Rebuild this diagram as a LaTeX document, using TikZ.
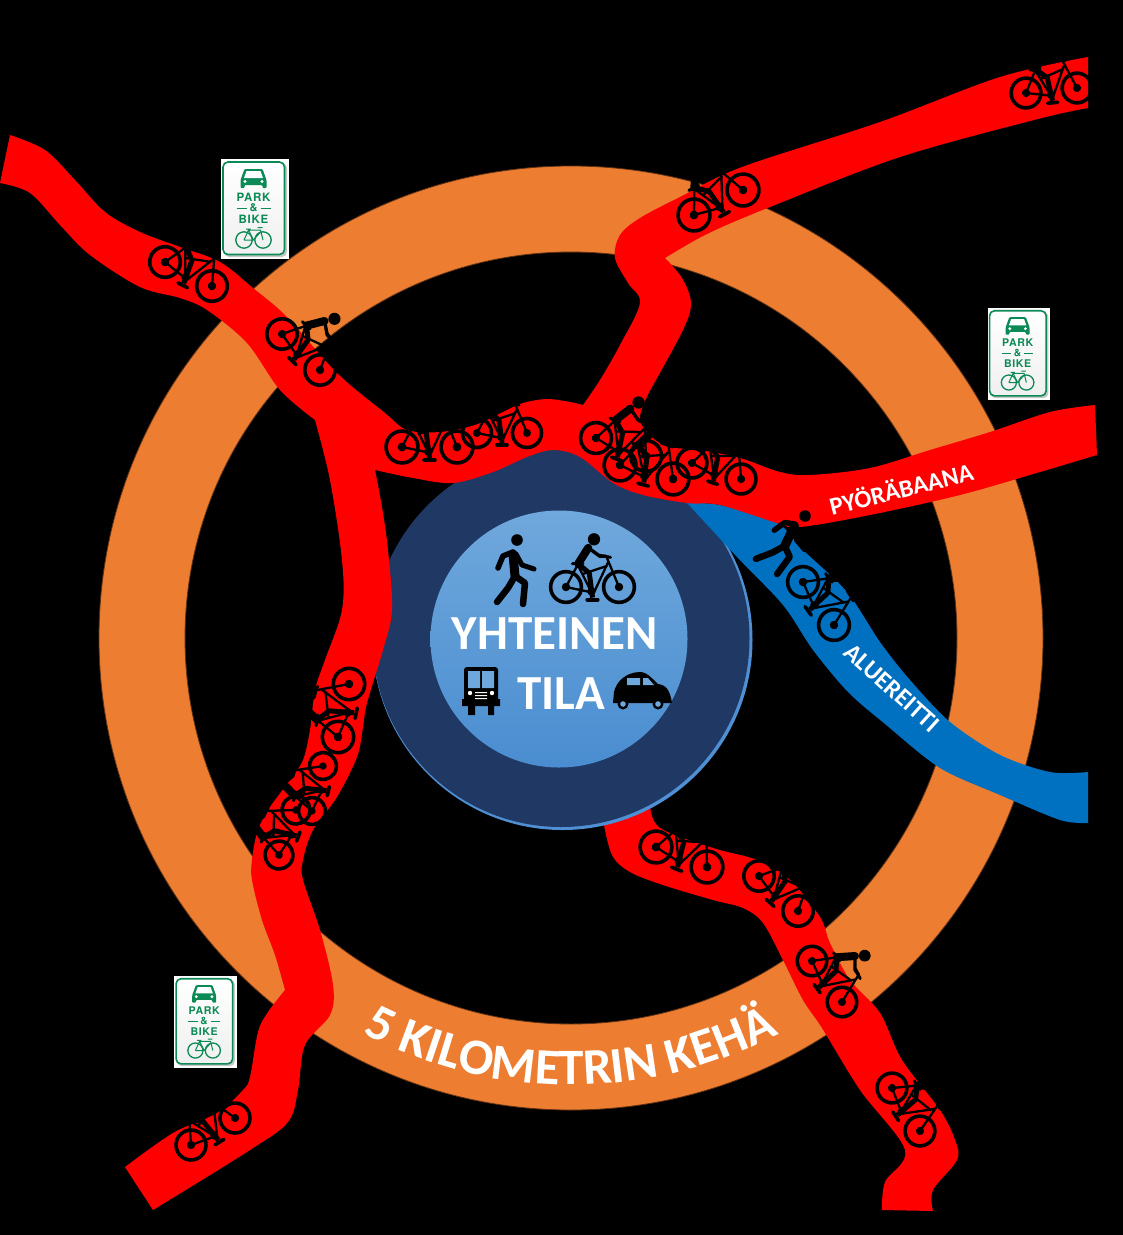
\documentclass[tikz,border=0pt]{standalone}
\usepackage{fontspec}
\setmainfont{Carlito}
\setsansfont{TeX Gyre Heros}
\usetikzlibrary{decorations.text}
\definecolor{ringor}{HTML}{ED7D31}
\definecolor{roadred}{HTML}{FF0000}
\definecolor{areablue}{HTML}{0070C0}
\definecolor{navyc}{HTML}{1F3864}
\definecolor{signgreen}{HTML}{0B8A55}
\definecolor{halo}{HTML}{4F8FD3}
\definecolor{disctop}{HTML}{6FA8DC}
\definecolor{discbot}{HTML}{4A8DD0}
\newfontfamily\signfont[LetterSpace=6]{TeX Gyre Heros}
\tikzset{
 x=1pt,y=-1pt,
 bikeicon/.pic={
  \draw[black,line width=3.6] (-25,0) circle[radius=14.5] (25,0) circle[radius=14.5];
  \fill[black] (-25,0) circle[radius=4] (25,0) circle[radius=4];
  \draw[black,line width=2.3,line join=round] (-25,0) -- (-14,-21) -- (-1,5) -- cycle;
  \draw[black,line width=2.3] (-10,-12) -- (14,-20) (1,6) -- (15,-24) (13,-29) -- (25,0);
  \draw[black,line width=3,line cap=round] (-19,-22) -- (-9,-22) (6,-30) -- (17,-28);
  \draw[black,line width=3.6,line cap=round] (-5,12) -- (5,12);
  \fill[black] (-1,4) circle[radius=4];
  \fill[black] (1.4,-45) circle[radius=5.8];
  \draw[black,line width=8,line cap=round,line join=round] (-13.5,-22) -- (-4,-37);
  \draw[black,line width=3.4,line join=round] (-4,-37) -- (7,-29) -- (13,-29);
  \draw[black,line width=5,line join=round] (-13.5,-22) -- (-3,-13) -- (0,10);
 },
 walkicon/.pic={
  \fill[black] (0,0) circle[radius=5.8];
  \draw[black,line width=9,line cap=round] (-4,14) -- (-2,36);
  \draw[black,line width=5.5,line cap=round,line join=round] (-4,12) -- (-14,16) -- (-19,28);
  \draw[black,line width=5,line cap=round,line join=round] (-1,14) -- (5,25) -- (17,29);
  \draw[black,line width=6.5,line cap=round,line join=round] (-2,36) -- (-9,48) -- (-20,62);
  \draw[black,line width=6.5,line cap=round,line join=round] (-2,36) -- (8,43) -- (6,64);
 },
 signicon/.pic={
  \fill[white] (-34,-50) rectangle (34,50);
  \fill[black!22,rounded corners=5] (-31,-46) rectangle (32,48);
  \shade[top color=white,bottom color=black!6,rounded corners=5,draw=signgreen,line width=1.6] (-32,-47) rectangle (29.5,45.5);
  \begin{scope}[shift={(-1.5,0)}]
  \fill[signgreen,rounded corners=1] (-13,-21) -- (-13,-29) -- (-9,-40) -- (9,-40) -- (13,-29) -- (13,-21) -- (9,-21) -- (9,-24) -- (-9,-24) -- (-9,-21) -- cycle;
  \fill[white] (-7,-38) -- (7,-38) -- (9.5,-31) -- (-9.5,-31) -- cycle;
  \fill[white] (-8.5,-27.5) circle[radius=1.7] (8.5,-27.5) circle[radius=1.7];
  \node[inner sep=0,text=signgreen,font=\signfont\bfseries\fontsize{11.5}{12}\selectfont,transform shape] (-park) at (0,-12) {PARK};
  \node[inner sep=0,text=signgreen,font=\sffamily\bfseries\fontsize{11}{11}\selectfont,transform shape] (-amp) at (0,-1) {\&};
  \node[inner sep=0,text=signgreen,font=\signfont\bfseries\fontsize{11.5}{12}\selectfont,transform shape] (-bike) at (0,10) {BIKE};
  \draw[signgreen,line width=1] (-17,-1) -- (-7,-1) (7,-1) -- (17,-1);
  \draw[signgreen,line width=1.3] (-9.5,31) circle[radius=8.2] (9.5,31) circle[radius=8.2];
  \draw[signgreen,line width=1,line join=round] (-9.5,31) -- (-5,21) -- (7,21) -- (9.5,31) (-5,21) -- (0,31) -- (7,23) (0,31) -- (-9.5,31) (-7.5,20) -- (-3,20) (4,18.5) -- (9,18.5);
  \end{scope}
 }
}
\newcommand\bikeRW[4]{\pgfmathsetmacro\ba{atan2(#2-#4,#3-#1)}\pgfmathsetmacro\bs{veclen(#3-#1,#4-#2)/50}\pic[rotate=\ba,scale=\bs] at ({(#1+#3)/2},{(#2+#4)/2}) {bikeicon};}
\begin{document}
\begin{tikzpicture}
\useasboundingbox (0,0) rectangle (1123,1235);
\fill[black] (0,0) rectangle (1123,1235);
% ring
\fill[ringor,draw=black!60!ringor,line width=.8,even odd rule] (571,638) circle[radius=472] (571,638) circle[radius=386];
% south-east road
\fill[roadred] plot[smooth,tension=.55] coordinates {(603,820) (612,855) (630,872) (663,885) (713,900) (743,908) (763,923) (783,960) (803,1000) (822,1028) (860,1090) (905,1150) (885,1182) (882,1210)}
 -- plot[smooth,tension=.55] coordinates {(933,1211) (933,1190) (957,1160) (955,1140) (940,1110) (902,1060) (880,1013) (850,980) (830,943) (820,917) (790,880) (757,860) (713,848) (660,828) (650,805)} -- cycle;
% central disc
\fill[halo] (562.5,640) circle[radius=190];
\fill[navyc] (561,638.5) circle[radius=188.5];
% blue road
\fill[areablue] plot[smooth,tension=.5] coordinates {(687,503) (720,505) (777,523) (803,550) (847,592) (880,642) (910,680) (950,722) (1000,755) (1050,772) (1088,772)}
 -- plot[smooth,tension=.5] coordinates {(1088,823) (1060,820) (1000,795) (940,768) (885,724) (848,692) (813,650) (783,605) (737,557) (687,503)} -- cycle;
% inner disc
\shade[top color=disctop,bottom color=discbot] (559,639) circle[radius=128.5];
% main red road
\fill[roadred]
 plot[smooth,tension=.55] coordinates {(10,135) (45,150) (75,180) (105,212) (140,232) (180,247) (220,262) (253,288) (287,317) (337,373) (385,413) (407,430) (440,432) (475,425) (503,412) (523,403) (547,399) (570,402) (583,405)}
 -- plot[smooth,tension=.55] coordinates {(583,405) (600,380) (620,345) (640,303) (628,283) (615,258) (620,235) (640,218) (680,197) (742,167) (880,122) (1000,77) (1088,57)}
 -- plot[smooth,tension=.55] coordinates {(1088,108) (1038,119) (900,157) (770,207) (707,234) (665,258)}
 -- plot[smooth,tension=.55] coordinates {(665,258) (682,278) (691,303) (683,330) (652,387) }
 -- plot[smooth,tension=.55] coordinates {(652,387) (640,420) (663,445) (700,450) (740,458) (780,472) (810,475) (870,468) (930,450) (990,432) (1050,412) (1095,405)}
 -- plot[smooth,tension=.55] coordinates {(1097,455) (1040,472) (960,495) (870,515) (800,527) (777,523) (720,505) (687,503) (643,495) (613,483) (580,457) (553,450) (527,457) (493,472) (453,483) (413,478) (375,470)}
 -- plot[smooth,tension=.55] coordinates {(375,470) (382,507) (388,550) (392,610) (383,650) (367,703) (363,727) (357,757) (337,797) (313,830) (303,860) (303,880) (320,930) (333,985) (330,1015) (305,1045) (298,1090) (288,1122) (250,1150) (153,1210)}
 -- plot[smooth,tension=.55] coordinates {(125,1167) (173,1133) (217,1113) (243,1090) (250,1077) (258,1032) (268,1012) (285,990)}
 -- plot[smooth,tension=.55] coordinates {(285,990) (275,955) (262,920) (252,880) (252,860) (257,833) (268,810) (290,780) (303,760) (310,730) (315,690) (325,660) (342,610) (342,560) (330,480) (315,420)}
 -- plot[smooth,tension=.55] coordinates {(315,420) (280,390) (247,343) (207,310) (180,298) (140,287) (90,255) (60,225) (30,193) (0,183)} -- cycle;
% bikes on the roads
\bikeRW{1026}{93}{1077}{88}
\bikeRW{694}{215}{743}{190}
\bikeRW{165}{262}{212}{286}
\bikeRW{282}{334}{320}{370}
\bikeRW{402}{447}{457}{447}
\bikeRW{477}{433}{527}{433}
\bikeRW{596}{438}{646}{456}
\bikeRW{620}{465}{673}{479}
\bikeRW{692}{463}{741}{479}
\bikeRW{803}{582}{834}{625}
\bikeRW{338}{737}{349}{684}
\bikeRW{312}{811}{323}{766}
\bikeRW{279}{855}{296}{810}
\bikeRW{191}{1145}{235}{1118}
\bikeRW{656}{847}{707}{867}
\bikeRW{759}{876}{798}{911}
\bikeRW{812}{961}{842}{1002}
\bikeRW{892}{1088}{920}{1131}
\pic[rotate=-31] at (805,516) {walkicon};
% centre icons
\pic at (517,540) {walkicon};
\bikeRW{566}{587}{619}{587}
% bus
\fill[black,rounded corners=3] (464,667) rectangle (498,704);
\fill[black] (462,699) rectangle (500,706) (468,705) rectangle (475,715) (488,705) rectangle (494,715);
\fill[disctop] (468,671) rectangle (480,688) (482,671) rectangle (494,688);
\fill[white] (470,693) circle[radius=2.2] (492,693) circle[radius=2.2] (475,692) rectangle (487,693.2) (475,695) rectangle (487,696.2) (475,698) rectangle (487,699.2);
% car
\fill[black] (613,703) -- (614,692) .. controls (616,682) and (626,672) .. (640,672) .. controls (648,672) and (654,681) .. (658,684) .. controls (666,685) and (670,690) .. (672,703) -- cycle;
\fill[disctop] (627,678) rectangle (640,685) (643,678) -- (648,678) -- (654,685) -- (643,685) -- cycle;
\fill[black] (623,704) circle[radius=5.5] (658,704) circle[radius=5.5];
\fill[disctop] (623,704) circle[radius=2.8] (658,704) circle[radius=2.8];
% centre text
\node[inner sep=0,text=white,font=\bfseries\fontsize{49}{49}\selectfont] (common) at (555,634) {YHTEINEN};
\node[inner sep=0,text=white,font=\bfseries\fontsize{49}{49}\selectfont] (space) at (561,694) {TILA};
% road labels
\node[inner sep=0,text=white,font=\bfseries\fontsize{25}{25}\selectfont,rotate=14] (cyclepath) at (901,488) {PYÖRÄBAANA};
\node[inner sep=0,text=white,font=\bfseries\fontsize{25}{25}\selectfont,rotate=-42] (arearoute) at (892,688) {ALUEREITTI};
% ring label
\path[postaction={decorate},decoration={text along path,text align=center,
 text={|\bfseries\fontsize{51}{51}\selectfont\color{white}|5 KILOMETRIN KEHÄ}}]
 plot[domain=140:40,samples=60] ({571+447*cos(\x)},{638+447*sin(\x)});
% signs
\pic (signa) at (255,209) {signicon};
\pic[scale=.92,transform shape] (signb) at (1019,354) {signicon};
\pic[scale=.92,transform shape] (signc) at (205.5,1022) {signicon};
\end{tikzpicture}
\end{document}
